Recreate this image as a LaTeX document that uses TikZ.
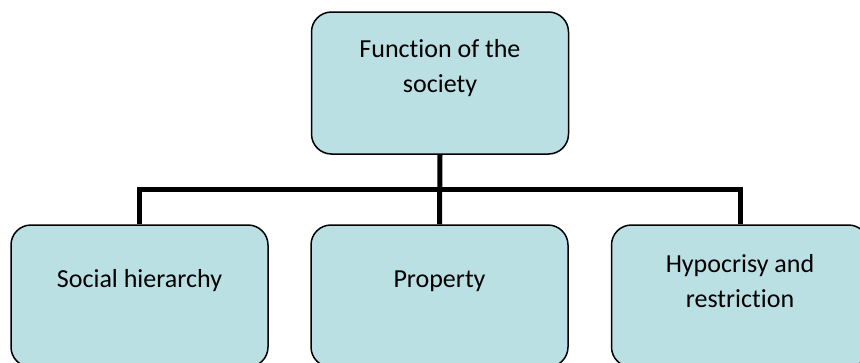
\documentclass[tikz,border=0pt]{standalone}
\usepackage{fontspec}
\setmainfont{Carlito}[Ligatures=NoCommon]
\definecolor{boxfill}{RGB}{186,224,228}
\begin{document}
\begin{tikzpicture}[x=1pt,y=-1pt,
  box/.style={draw=black, line width=1.5pt, fill=boxfill, rounded corners=20pt,
              minimum width=257pt, minimum height=142pt, inner sep=0pt},
  txt/.style={font=\fontsize{26}{35}\selectfont, align=center, inner sep=0pt},
  link/.style={line width=5pt}]
\useasboundingbox (0,0) rectangle (860,362);
\begin{scope}
  \clip (0,0) rectangle (860,362);
  % boxes
  \node[box] (top)   at (440,83)    {};
  \node[box] (left)  at (139.5,296) {};
  \node[box] (mid)   at (439.5,296) {};
  \node[box] (right) at (740,296)   {};
  % labels
  \node[txt] (topt) at (440,68) {Function of the\\society};
  \node[txt, anchor=base] (leftt) at (139.5,287) {Social hierarchy};
  \node[txt, anchor=base] (midt) at (439.5,287) {Property};
  \node[txt] (rightt) at (740,281) {Hypocrisy and\\restriction};
  % connectors
  \coordinate (bar) at (440,189);
  \draw[link] (top.south) -- (mid.north);
  \draw[link] (left.north) |- (bar) -| (right.north);
\end{scope}
\end{tikzpicture}
\end{document}
